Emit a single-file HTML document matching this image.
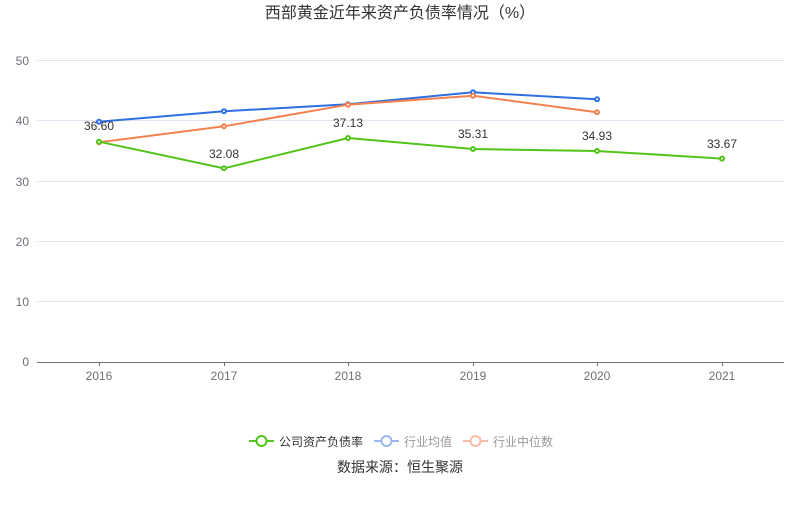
<!DOCTYPE html>
<html><head><meta charset="utf-8"><style>
body{margin:0;background:#fff;}
text{font-family:"Liberation Sans","Noto Sans CJK SC",sans-serif;}
</style></head><body>
<svg width="800" height="501" xmlns="http://www.w3.org/2000/svg">
<text x="400" y="18" text-anchor="middle" font-size="16" fill="#333">西部黄金近年来资产负债率情况（%）</text>
<g stroke="#e0e6f1" stroke-width="1">
<line x1="37" y1="60.5" x2="784" y2="60.5"/><line x1="37" y1="120.5" x2="784" y2="120.5"/>
<line x1="37" y1="181.5" x2="784" y2="181.5"/><line x1="37" y1="241.5" x2="784" y2="241.5"/>
<line x1="37" y1="301.5" x2="784" y2="301.5"/>
</g>
<line x1="37" y1="362.5" x2="784" y2="362.5" stroke="#6e7079"/>
<g stroke="#6e7079"><line x1="99.5" y1="362" x2="99.5" y2="366"/><line x1="224.5" y1="362" x2="224.5" y2="366"/><line x1="348.5" y1="362" x2="348.5" y2="366"/><line x1="473.5" y1="362" x2="473.5" y2="366"/><line x1="597.5" y1="362" x2="597.5" y2="366"/><line x1="722.5" y1="362" x2="722.5" y2="366"/></g>
<g font-size="12" fill="#6e7079" text-anchor="end">
<text x="29" y="65">50</text><text x="29" y="125">40</text><text x="29" y="186">30</text><text x="29" y="246">20</text><text x="29" y="306">10</text><text x="29" y="366">0</text></g>
<g font-size="12" fill="#6e7079" text-anchor="middle">
<text x="99" y="380">2016</text><text x="224" y="380">2017</text><text x="348" y="380">2018</text><text x="473" y="380">2019</text><text x="597" y="380">2020</text><text x="722" y="380">2021</text></g>
<g fill="#fff" stroke-width="2">
<polyline fill="none" stroke="#2f6fe0" points="99,121.7 224,111.3 348,104.3 473,92.3 597,99.3"/>
<g stroke="#2f6fe0"><circle cx="99" cy="121.7" r="2"/><circle cx="224" cy="111.3" r="2"/><circle cx="348" cy="104.3" r="2"/><circle cx="473" cy="92.3" r="2"/><circle cx="597" cy="99.3" r="2"/></g>
<polyline fill="none" stroke="#f5814f" points="99,142.3 224,126.3 348,104.7 473,95.7 597,112.3"/>
<g stroke="#f5814f"><circle cx="99" cy="142.3" r="2"/><circle cx="224" cy="126.3" r="2"/><circle cx="348" cy="104.7" r="2"/><circle cx="473" cy="95.7" r="2"/><circle cx="597" cy="112.3" r="2"/></g>
<polyline fill="none" stroke="#52c41a" points="99,141.7 224,168.3 348,138 473,149 597,151 722,158.6"/>
<g stroke="#52c41a"><circle cx="99" cy="141.7" r="2"/><circle cx="224" cy="168.3" r="2"/><circle cx="348" cy="138" r="2"/><circle cx="473" cy="149" r="2"/><circle cx="597" cy="151" r="2"/><circle cx="722" cy="158.6" r="2"/></g>
</g>
<g font-size="12" fill="#333" text-anchor="middle">
<text x="99" y="130">36.60</text><text x="224" y="158">32.08</text><text x="348" y="127">37.13</text><text x="473" y="138">35.31</text><text x="597" y="140">34.93</text><text x="722" y="148">33.67</text></g>
<g stroke-width="2" fill="#fff">
<line x1="249" y1="441" x2="274" y2="441" stroke="#52c41a"/><circle cx="261.5" cy="441" r="5" stroke="#52c41a"/>
<line x1="374" y1="441" x2="399" y2="441" stroke="#9bb8f0"/><circle cx="386.5" cy="441" r="5" stroke="#9bb8f0"/>
<line x1="463" y1="441" x2="488" y2="441" stroke="#f9bda5"/><circle cx="475.5" cy="441" r="5" stroke="#f9bda5"/>
</g>
<g font-size="12">
<text x="279" y="446" fill="#333">公司资产负债率</text>
<text x="404" y="446" fill="#999">行业均值</text>
<text x="493" y="446" fill="#999">行业中位数</text>
</g>
<text x="400" y="472" text-anchor="middle" font-size="14" fill="#333">数据来源：恒生聚源</text>
</svg>
</body></html>
